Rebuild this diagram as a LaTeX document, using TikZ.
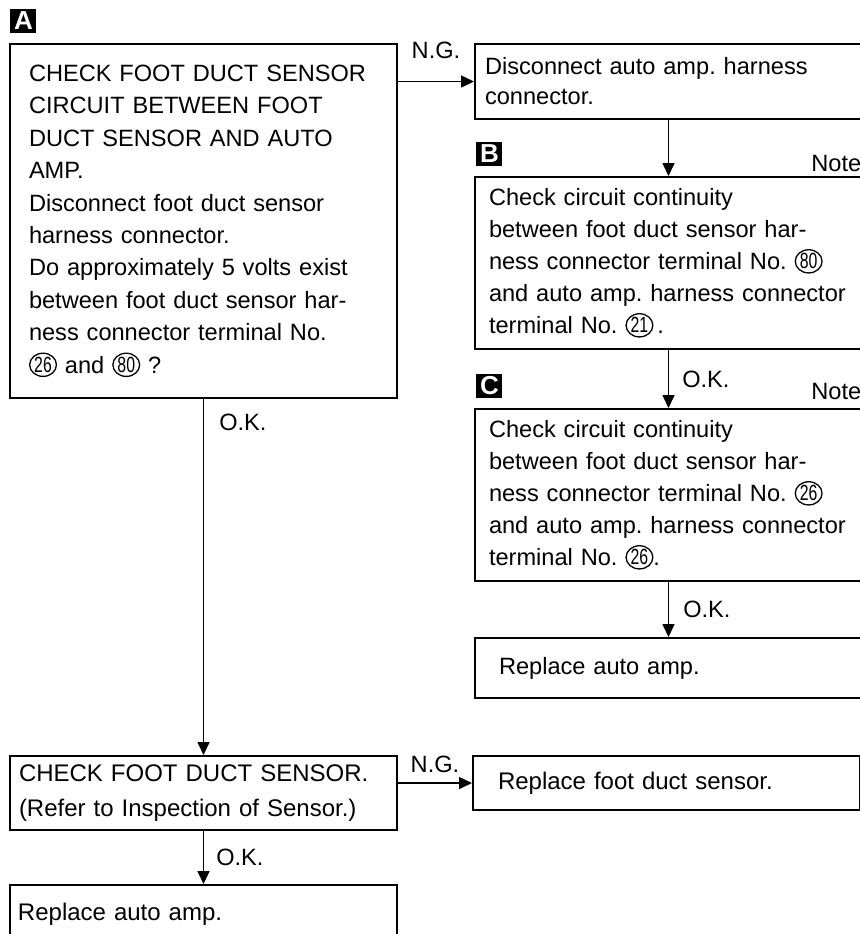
\documentclass[tikz,border=0pt]{standalone}
\usepackage{fontspec}
\setmainfont{Liberation Sans}
\usepackage{tikz}
\usetikzlibrary{arrows.meta,positioning}
\frenchspacing

% circled terminal number
\newcommand{\cnum}[1]{\tikz[baseline=0pt]{\draw[line width=0.65pt] (0pt,4.1pt) ellipse (6.7pt and 5.8pt);
    \pgftext[base,at={\pgfpoint{0pt}{0.3pt}}]{\scalebox{0.72}[1]{\fontsize{11pt}{11pt}\selectfont #1}}}}

\begin{document}
\begin{tikzpicture}[x=0.5pt,y=-0.5pt,
        box/.style={draw,line width=1pt,minimum width=193.5pt,align=left,
        font=\fontsize{11.8pt}{16pt}\selectfont},
        tag/.style={fill=black,text=white,minimum width=13pt,minimum height=12pt,inner sep=0pt,
        font=\fontsize{13pt}{13pt}\bfseries},
        lbl/.style={inner sep=0pt,font=\fontsize{11.8pt}{12pt}\selectfont},
        arrow/.style={-{Triangle[length=6.5pt,width=6pt]},line width=0.8pt}]
        \path[use as bounding box,fill=white] (0,0) rectangle (859,934);
        \node[box,inner xsep=9.5pt,text width=174.5pt,minimum height=177pt,
        font=\fontsize{11.8pt}{16.2pt}\selectfont,anchor=north west] (chkA) at (9,43)
        {CHECK FOOT DUCT SENSOR\\CIRCUIT BETWEEN FOOT\\DUCT SENSOR AND AUTO\\AMP.\\
        Disconnect foot duct sensor\\harness connector.\\Do approximately 5 volts exist\\
        between foot duct sensor har-\\ness connector terminal No.\\\cnum{26} and \cnum{80} ?};
        \node[box,inner xsep=5pt,text width=183.5pt,minimum height=37.5pt,
        font=\fontsize{11.8pt}{15pt}\selectfont,right=38pt of chkA.north east,anchor=north west] (dis)
        {Disconnect auto amp. harness\\connector.};
        \node[box,inner xsep=7pt,text width=179.5pt,minimum height=86pt,below=28pt of dis] (contB)
        {Check circuit continuity\\between foot duct sensor har-\\ness connector terminal No. \cnum{80}\\
        \mbox{and auto amp. harness connector}\\terminal No. \cnum{21}\,.};
        \node[box,inner xsep=7pt,text width=179.5pt,minimum height=86pt,below=29pt of contB] (contC)
        {Check circuit continuity\\between foot duct sensor har-\\ness connector terminal No. \cnum{26}\\
        \mbox{and auto amp. harness connector}\\terminal No. \cnum{26}.};
        \node[box,inner xsep=12pt,text width=169.5pt,minimum height=30pt,below=27.5pt of contC] (repAmp)
        {Replace auto amp.};
        \node[box,inner xsep=4.5pt,text width=184.5pt,minimum height=37pt,
        font=\fontsize{12pt}{17.5pt}\selectfont,below=178pt of chkA] (chkSen)
        {CHECK FOOT DUCT SENSOR.\\(Refer to Inspection of Sensor.)};
        \node[box,inner xsep=12.5pt,text width=168.5pt,minimum height=27pt,font=\fontsize{12pt}{14pt}\selectfont,
        right=37pt of chkSen.north east,anchor=north west] (repSen) {Replace foot duct sensor.};
        \node[box,inner xsep=4pt,text width=185.5pt,minimum height=29pt,font=\fontsize{12pt}{14pt}\selectfont,
        below=26.5pt of chkSen] (repAmp2) {Replace auto amp.};
        % section tags and notes
        \node[tag,above right=5pt and 0.5pt of chkA.north west] (tagA) {A};
        \node[tag,above right=5pt and 1pt of contB.north west] (tagB) {B};
        \node[tag,above right=5pt and 1pt of contC.north west] (tagC) {C};
        \node[lbl,anchor=base west] (noteB) at ([xshift=-26pt,yshift=2.25pt]contB.north east) {Note};
        \node[lbl,anchor=base west] (noteC) at ([xshift=-26pt,yshift=4.25pt]contC.north east) {Note};
        \draw[arrow] (chkA.east |- dis.west)--(dis.west) node[lbl,midway,above=11pt] (ngA) {N.G.};
        \draw[arrow] (dis)--(contB);
        \draw[arrow] (contB)--(contC) node[lbl,midway,right=6.5pt] (okB) {O.K.};
        \draw[arrow] (contC)--(repAmp) node[lbl,midway,right=7pt] (okC) {O.K.};
        \draw[arrow] (chkA)--(chkSen) node[lbl,pos=0.065,right=7.5pt] (okA) {O.K.};
        \draw[arrow] (chkSen.east |- repSen.west)--(repSen.west) node[lbl,midway,above=4.75pt] (ngS) {N.G.};
        \draw[arrow] (chkSen)--(repAmp2) node[lbl,midway,right=6pt] (okS) {O.K.};
    \end{tikzpicture}
\end{document}
